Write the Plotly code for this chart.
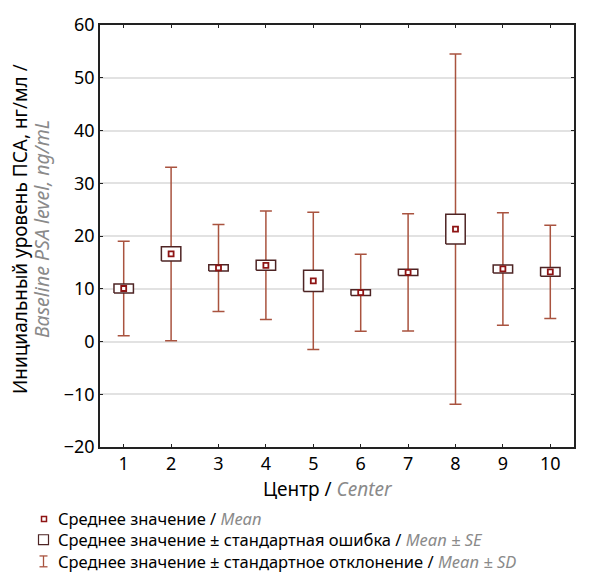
import plotly.graph_objects as go

centers = [1, 2, 3, 4, 5, 6, 7, 8, 9, 10]
tick_labels = ["1", "2", "3", "4", "5", "6", "7", "8", "9", "10"]
mean = [10.05, 16.6, 13.95, 14.45, 11.5, 9.25, 13.1, 21.3, 13.75, 13.2]
se = [0.85, 1.35, 0.6, 0.95, 2.0, 0.55, 0.6, 2.8, 0.75, 0.85]
sd = [8.95, 16.45, 8.25, 10.3, 13.0, 7.3, 11.1, 33.2, 10.65, 8.85]

FONT = "Noto Sans"
WHISK = "#a9533f"
BOXC = "#4e2424"
MEANC = "#8e1414"
GRAY = "#8a8a8a"

box_half = 0.205

fig = go.Figure()

# SD whiskers
fig.add_trace(go.Scatter(
    x=centers, y=mean, mode="markers",
    marker=dict(size=1, color="rgba(0,0,0,0)"),
    error_y=dict(type="data", array=sd, symmetric=True, color=WHISK,
                 thickness=1.5, width=6),
    showlegend=False, hoverinfo="skip"))

# SE boxes
bx, by = [], []
for c, m, s in zip(centers, mean, se):
    bx += [c - box_half, c + box_half, c + box_half, c - box_half, c - box_half, None]
    by += [m - s, m - s, m + s, m + s, m - s, None]
fig.add_trace(go.Scatter(
    x=bx, y=by, mode="lines", fill="toself", fillcolor="white",
    line=dict(color=BOXC, width=1.5), showlegend=False, hoverinfo="skip"))

# Means
fig.add_trace(go.Scatter(
    x=centers, y=mean, mode="markers",
    marker=dict(symbol="square-open", size=5, color=MEANC, line=dict(width=1.8, color=MEANC)),
    showlegend=False))

fig.update_xaxes(
    range=[0.5, 10.5], tickmode="array", tickvals=centers, ticktext=tick_labels,
    showline=True, linecolor="#222", linewidth=1.5, mirror="ticks",
    ticks="inside", ticklen=3, tickcolor="#222", tickwidth=1,
    showgrid=False, zeroline=False,
    tickfont=dict(family=FONT, size=18, color="black"))
fig.update_yaxes(
    range=[-20, 60], tickmode="linear", tick0=-20, dtick=10,
    showline=True, linecolor="#222", linewidth=1.5, mirror="ticks",
    ticks="inside", ticklen=3, tickcolor="#222", tickwidth=1,
    showgrid=True, gridcolor="#e2e2e2", gridwidth=1.5, zeroline=False,
    tickfont=dict(family=FONT, size=18, color="black"))

W, H = 598, 583
L, R, T, B = 100, 24, 19, 136
pw, ph = W - L - R, H - T - B

def px(x):
    return (x - L) / pw

def py(y):
    return (H - B - y) / ph

ann = []
# y title (two lines)
ann.append(dict(
    text="Инициальный уровень ПСА, нг/мл /",
    xref="paper", yref="paper", x=px(20), y=py(226), textangle=-90,
    showarrow=False, font=dict(family=FONT, size=19, color="black"),
    xanchor="center", yanchor="middle"))
ann.append(dict(
    text="<i>Baseline PSA level, ng/mL</i>",
    xref="paper", yref="paper", x=px(41), y=py(226), textangle=-90,
    showarrow=False, font=dict(family=FONT, size=19.5, color=GRAY),
    xanchor="center", yanchor="middle"))
# x title
ann.append(dict(
    text="Центр / <span style='color:%s'><i>Center</i></span>" % GRAY,
    xref="paper", yref="paper", x=px(328), y=py(490),
    showarrow=False, font=dict(family=FONT, size=19, color="black"),
    xanchor="center", yanchor="middle"))

legend_rows = [
    ("Среднее значение / ", "Mean", 519.5),
    ("Среднее значение ± стандартная ошибка / ", "Mean ± SE", 541),
    ("Среднее значение ± стандартное отклонение / ", "Mean ± SD", 563),
]
for ru, en, yy in legend_rows:
    ann.append(dict(
        text="%s<span style='color:%s'><i>%s</i></span>" % (ru, GRAY, en),
        xref="paper", yref="paper", x=px(56), y=py(yy),
        showarrow=False, font=dict(family=FONT, size=16.5, color="black"),
        xanchor="left", yanchor="middle"))

shapes = []
# legend symbols
shapes.append(dict(type="rect", xref="paper", yref="paper",
                   x0=px(41.5), x1=px(46.5), y0=py(522.5), y1=py(517.5),
                   line=dict(color=MEANC, width=1.5), fillcolor="white"))
shapes.append(dict(type="rect", xref="paper", yref="paper",
                   x0=px(38.5), x1=px(48.5), y0=py(546), y1=py(536),
                   line=dict(color=BOXC, width=1.2), fillcolor="white"))
shapes.append(dict(type="line", xref="paper", yref="paper",
                   x0=px(43.5), x1=px(43.5), y0=py(568.5), y1=py(557.5),
                   line=dict(color=WHISK, width=1.3)))
shapes.append(dict(type="line", xref="paper", yref="paper",
                   x0=px(39.5), x1=px(47.5), y0=py(557.5), y1=py(557.5),
                   line=dict(color=WHISK, width=1.3)))
shapes.append(dict(type="line", xref="paper", yref="paper",
                   x0=px(39.5), x1=px(47.5), y0=py(568.5), y1=py(568.5),
                   line=dict(color=WHISK, width=1.3)))

fig.update_layout(
    width=W, height=H,
    margin=dict(l=L, r=R, t=T, b=B),
    paper_bgcolor="white", plot_bgcolor="white",
    annotations=ann, shapes=shapes, showlegend=False,
    font=dict(family=FONT))

fig.write_html("out.html")
